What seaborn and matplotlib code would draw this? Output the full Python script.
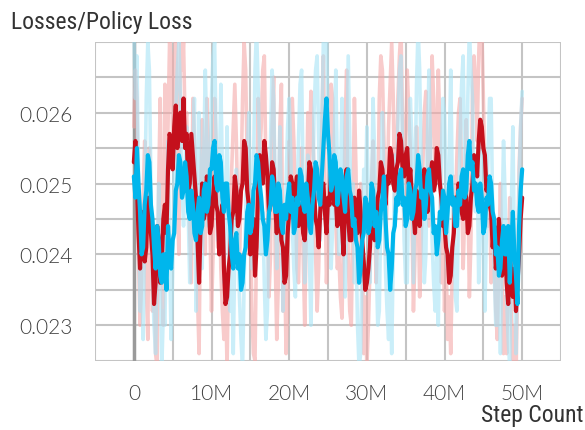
import numpy as np
import pandas as pd
import matplotlib
matplotlib.use("Agg")
import matplotlib.pyplot as plt
import seaborn as sns
from matplotlib.ticker import MultipleLocator, FuncFormatter
from matplotlib import font_manager

# ---- data (values in units of 1e-4) ----
SCALE = 1e-4
STEP = 0.2e6  # step spacing between logged points
red_smooth = [253, 256, 250, 243, 238, 246, 244, 239, 241, 248, 246, 243, 240, 233, 236, 244, 242, 236, 239, 245,
              247, 243, 252, 257, 256, 252, 258, 261, 255, 258, 260, 256, 262, 255, 257, 249, 250, 257, 254, 251,
              248, 242, 236, 244, 250, 245, 246, 251, 249, 243, 244, 248, 251, 247, 246, 240, 243, 247, 238, 233,
              234, 238, 240, 245, 246, 251, 249, 244, 245, 249, 250, 256, 255, 249, 247, 240, 242, 245, 237, 241,
              249, 254, 253, 250, 256, 254, 251, 246, 247, 253, 252, 247, 243, 249, 248, 242, 241, 236, 237, 243,
              246, 251, 250, 245, 249, 251, 244, 247, 247, 243, 242, 246, 248, 253, 252, 247, 249, 245, 244, 241,
              246, 249, 250, 246, 243, 248, 247, 252, 251, 247, 248, 244, 246, 249, 244, 240, 249, 252, 245, 242,
              242, 246, 248, 244, 243, 249, 246, 242, 239, 235, 236, 238, 241, 247, 246, 242, 243, 248, 249, 253,
              252, 249, 247, 251, 250, 255, 254, 250, 249, 252, 253, 257, 256, 252, 251, 254, 255, 250, 252, 248,
              246, 243, 249, 247, 244, 248, 247, 252, 251, 246, 248, 251, 253, 249, 250, 255, 254, 250, 248, 244,
              244, 241, 240, 236, 237, 241, 243, 248, 246, 250, 249, 246, 245, 249, 248, 243, 244, 248, 250, 254,
              253, 251, 256, 259, 258, 255, 254, 249, 250, 247, 246, 241, 244, 238, 240, 245, 242, 237, 238, 242,
              236, 233, 240, 237, 234, 238, 232, 236, 240, 245, 248]
blue_smooth = [251, 248, 255, 250, 246, 240, 241, 247, 249, 254, 253, 247, 245, 241, 238, 244, 242, 237, 236, 240,
               240, 235, 244, 240, 238, 242, 243, 249, 250, 254, 253, 248, 249, 253, 251, 246, 245, 249, 247, 243,
               242, 246, 248, 243, 244, 249, 250, 246, 247, 252, 252, 255, 256, 250, 249, 254, 253, 248, 246, 250,
               250, 246, 244, 240, 238, 242, 243, 238, 240, 235, 236, 240, 241, 246, 247, 243, 244, 249, 250, 254,
               253, 250, 248, 245, 244, 240, 242, 246, 247, 251, 250, 246, 246, 250, 249, 244, 243, 247, 245, 248,
               250, 246, 248, 243, 244, 248, 247, 252, 251, 247, 246, 250, 248, 244, 243, 247, 249, 253, 252, 248,
               247, 251, 255, 259, 262, 257, 254, 249, 250, 254, 253, 247, 249, 252, 251, 248, 246, 251, 252, 249,
               248, 244, 245, 242, 241, 236, 238, 242, 243, 248, 247, 243, 244, 250, 249, 244, 246, 241, 242, 246,
               248, 251, 245, 241, 240, 235, 238, 243, 244, 248, 247, 251, 252, 247, 248, 244, 245, 250, 249, 245,
               246, 249, 250, 254, 252, 248, 249, 245, 247, 251, 252, 249, 248, 243, 244, 240, 242, 246, 245, 249,
               248, 243, 246, 250, 251, 247, 248, 244, 244, 249, 247, 251, 252, 248, 249, 254, 256, 252, 253, 249,
               250, 247, 246, 250, 248, 243, 244, 248, 247, 251, 250, 246, 245, 240, 241, 237, 238, 242, 244, 240,
               240, 244, 236, 241, 246, 240, 237, 233, 244, 249, 252]
red_raw = [258, 266, 262, 240, 230, 236, 248, 256, 236, 228, 255, 246, 232, 240, 226, 224, 250, 262, 238, 230,
           264, 252, 258, 270, 268, 256, 262, 274, 248, 240, 272, 266, 270, 258, 260, 250, 243, 236, 262, 256,
           250, 234, 226, 248, 259, 252, 240, 262, 256, 244, 232, 240, 262, 255, 241, 250, 238, 232, 228, 236,
           224, 238, 245, 252, 258, 264, 256, 246, 238, 250, 262, 270, 266, 252, 240, 246, 232, 226, 225, 242,
           262, 254, 258, 266, 268, 252, 246, 234, 240, 258, 265, 240, 228, 236, 258, 264, 232, 240, 226, 232,
           256, 248, 262, 256, 248, 238, 236, 246, 255, 240, 230, 244, 260, 252, 263, 258, 252, 240, 232, 238,
           249, 258, 268, 250, 236, 242, 254, 264, 262, 250, 245, 238, 240, 234, 231, 244, 258, 266, 240, 232,
           230, 246, 262, 252, 236, 240, 250, 244, 226, 234, 224, 230, 238, 250, 256, 246, 236, 244, 262, 268,
           266, 256, 240, 248, 258, 264, 270, 262, 246, 252, 262, 268, 272, 258, 244, 256, 266, 260, 255, 246,
           232, 240, 258, 248, 234, 242, 252, 260, 263, 254, 244, 256, 268, 262, 249, 256, 266, 258, 236, 244,
           232, 240, 228, 234, 226, 238, 251, 246, 254, 260, 262, 250, 238, 246, 259, 250, 234, 242, 262, 268,
           264, 256, 268, 274, 272, 262, 252, 246, 244, 250, 236, 246, 240, 232, 228, 240, 250, 238, 226, 234,
           226, 238, 248, 232, 224, 230, 222, 236, 252, 258, 262]
blue_raw = [272, 262, 268, 250, 232, 240, 228, 246, 262, 270, 266, 250, 236, 230, 226, 238, 250, 240, 224, 232,
            230, 246, 256, 240, 228, 238, 252, 260, 266, 270, 262, 250, 244, 252, 258, 246, 236, 244, 254, 262,
            232, 248, 260, 250, 238, 254, 266, 256, 244, 252, 262, 268, 270, 256, 242, 250, 264, 252, 236, 246,
            258, 244, 232, 238, 226, 240, 252, 244, 234, 228, 224, 236, 246, 254, 260, 248, 238, 252, 266, 272,
            264, 254, 240, 246, 236, 228, 232, 248, 256, 266, 262, 250, 238, 246, 258, 246, 232, 240, 250, 258,
            262, 254, 244, 238, 234, 246, 256, 264, 266, 250, 236, 244, 254, 240, 230, 244, 260, 266, 268, 256,
            242, 258, 270, 274, 272, 258, 250, 238, 244, 256, 266, 252, 240, 250, 262, 248, 234, 246, 268, 256,
            244, 250, 236, 242, 230, 224, 226, 240, 252, 246, 258, 248, 236, 248, 262, 254, 240, 230, 232, 246,
            260, 250, 238, 232, 228, 236, 226, 240, 254, 246, 258, 266, 268, 254, 242, 236, 236, 250, 262, 256,
            236, 250, 264, 272, 266, 252, 244, 236, 240, 256, 266, 254, 242, 236, 232, 240, 230, 244, 254, 262,
            260, 248, 238, 254, 266, 250, 244, 234, 232, 246, 256, 264, 268, 252, 246, 262, 272, 266, 262, 248,
            246, 254, 236, 248, 256, 240, 232, 244, 254, 262, 262, 246, 238, 230, 230, 240, 226, 244, 256, 248,
            234, 228, 224, 246, 258, 240, 226, 240, 250, 258, 263]

title = "Losses/Policy Loss"
xlabel = "Step Count"


def frame(name, values):
    return pd.DataFrame({"step": np.arange(len(values)) * STEP,
                         "loss": np.array(values) * SCALE,
                         "series": name})


sns.set_style("white")
plt.rcParams["font.family"] = ["Lato", "DejaVu Sans"]

names = {f.name for f in font_manager.fontManager.ttflist}
cond = [n for n in ["Roboto Condensed", "Liberation Sans Narrow", "DejaVu Sans Condensed"] if n in names]
title_family = cond + ["Roboto", "DejaVu Sans"]

fig = plt.figure(figsize=(5.85, 4.31), dpi=100)
ax = fig.add_axes([0.1624, 0.1608, 0.7966, 0.740])

grid_c = "#c4c4c4"
ax.axvline(0, color="#9a9a9a", lw=2.5, zorder=1)
sns.lineplot(data=frame("red_raw", red_raw), x="step", y="loss", ax=ax, color="#f4a9a9",
             alpha=0.6, lw=2.6, estimator=None, zorder=2)
sns.lineplot(data=frame("blue_raw", blue_raw), x="step", y="loss", ax=ax, color="#a8e4f6",
             alpha=0.6, lw=2.6, estimator=None, zorder=2)
sns.lineplot(data=frame("red_smooth", red_smooth), x="step", y="loss", ax=ax, color="#c4101c",
             lw=3.0, estimator=None, zorder=3)
sns.lineplot(data=frame("blue_smooth", blue_smooth), x="step", y="loss", ax=ax, color="#00b6ec",
             lw=3.0, estimator=None, zorder=4)

ax.set_xlim(-5e6, 55e6)
ax.set_ylim(0.0225, 0.027)
ax.xaxis.set_major_locator(MultipleLocator(5e6))
ax.yaxis.set_major_locator(MultipleLocator(0.0005))


def xfmt(v, pos):
    m = int(round(v / 1e6))
    if m < 0 or m % 10 != 0 or m > 50:
        return ""
    return "0" if m == 0 else f"{m}M"


def yfmt(v, pos):
    k = int(round(v / 0.0005))
    if k % 2 != 0 or v > 0.02655:
        return ""
    return f"{v:.3f}"


ax.xaxis.set_major_formatter(FuncFormatter(xfmt))
ax.yaxis.set_major_formatter(FuncFormatter(yfmt))
ax.grid(True, color=grid_c, lw=1.5, zorder=0)
ax.set_axisbelow(True)
for s in ax.spines.values():
    s.set_visible(False)
ax.tick_params(axis="both", which="major", length=9, width=1.5, color=grid_c,
               labelsize=15, labelcolor="#404040", direction="out", pad=7)
for lbl in ax.get_xticklabels() + ax.get_yticklabels():
    lbl.set_fontweight(300)
    lbl.set_color("#404040")
ax.set_xlabel("")
ax.set_ylabel("")
if ax.get_legend():
    ax.get_legend().remove()

fs_title = 17 if cond else 14
fig.text(0.018, 0.948, title, fontsize=fs_title, family=title_family,
         color="#333333", ha="left", va="center")
fig.text(0.997, 0.037, xlabel, fontsize=fs_title, family=title_family,
         color="#333333", ha="right", va="center")

fig.savefig("out.png", dpi=100)
